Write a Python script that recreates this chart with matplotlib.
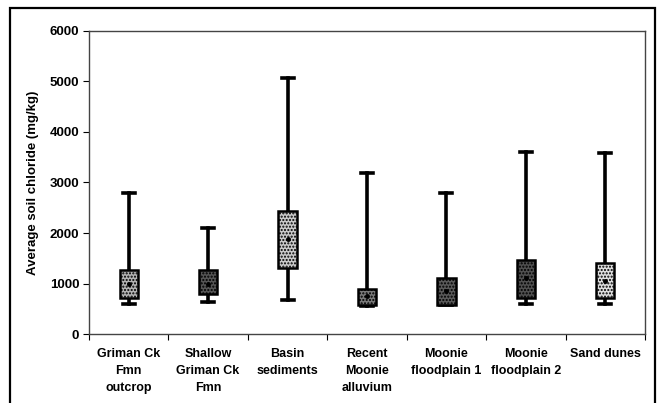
import numpy as np
import matplotlib.pyplot as plt
from matplotlib.patches import Rectangle

# data
categories = ['Griman Ck\nFmn\noutcrop', 'Shallow\nGriman Ck\nFmn', 'Basin\nsediments',
              'Recent\nMoonie\nalluvium', 'Moonie\nfloodplain 1', 'Moonie\nfloodplain 2', 'Sand dunes']
whis_low = [600, 630, 670, 560, 580, 600, 590]
q1 = [710, 790, 1310, 570, 580, 720, 710]
mean = [990, 1000, 1880, 760, 850, 1100, 1040]
q3 = [1270, 1260, 2440, 890, 1110, 1460, 1410]
whis_high = [2800, 2100, 5060, 3180, 2790, 3600, 3580]
box_fill = ['#b4b4b4', '#555555', '#cacaca', '#7a7a7a', '#5a5a5a', '#505050', '#dedede']

plt.rcParams['font.family'] = ['Liberation Sans', 'DejaVu Sans']

fig = plt.figure(figsize=(6.61, 4.03), dpi=100)
ax = fig.add_axes([0.1346, 0.1712, 0.8412, 0.7519])

stats = []
for lo, a, m, b, hi in zip(whis_low, q1, mean, q3, whis_high):
    stats.append(dict(whislo=lo, q1=a, med=m, mean=m, q3=b, whishi=hi, fliers=[]))

x = np.arange(1, len(categories) + 1)
bp = ax.bxp(stats, positions=x, widths=0.23, patch_artist=True, showmeans=True,
            showfliers=False,
            boxprops=dict(edgecolor='black', linewidth=1.8),
            whiskerprops=dict(color='black', linewidth=2.6),
            capprops=dict(color='black', linewidth=2.6),
            capwidths=0.15,
            medianprops=dict(linewidth=0),
            meanprops=dict(marker='o', markerfacecolor='black', markeredgecolor='black',
                           markersize=2.5))
for patch, c in zip(bp['boxes'], box_fill):
    patch.set_facecolor(c)
    patch.set_hatch('.....')
    patch.set_zorder(3)
for k in ['whiskers', 'caps']:
    for ln in bp[k]:
        ln.set_zorder(2)
for ln in bp['means']:
    ln.set_zorder(4)

ax.set_xlim(0.5, len(categories) + 0.5)
ax.set_ylim(0, 6000)
ax.set_yticks(np.arange(0, 6001, 1000))
ax.set_xticks(x)
ax.set_xticklabels(categories, fontsize=9, fontweight='bold', linespacing=1.55, va='top')
ax.set_xticks(np.arange(0.5, len(categories) + 1, 1), minor=True)
ax.tick_params(axis='x', which='major', length=0, pad=10)
ax.tick_params(axis='x', which='minor', length=4, width=0.8)
ax.tick_params(axis='y', labelsize=9.5, length=4, width=0.8, pad=3)
for t in ax.get_yticklabels():
    t.set_fontweight('bold')

ax.set_ylabel('Average soil chloride (mg/kg)', fontsize=9.5, fontweight='bold')
ax.yaxis.set_label_coords(-0.09, 0.5)

for s in ax.spines.values():
    s.set_color('#444444')
    s.set_linewidth(1.0)

# outer frame
fig.patches.append(Rectangle((0.015, -0.01), 0.976, 0.99, transform=fig.transFigure,
                             fill=False, edgecolor='black', linewidth=1.6))

fig.savefig('out.png', dpi=100)
